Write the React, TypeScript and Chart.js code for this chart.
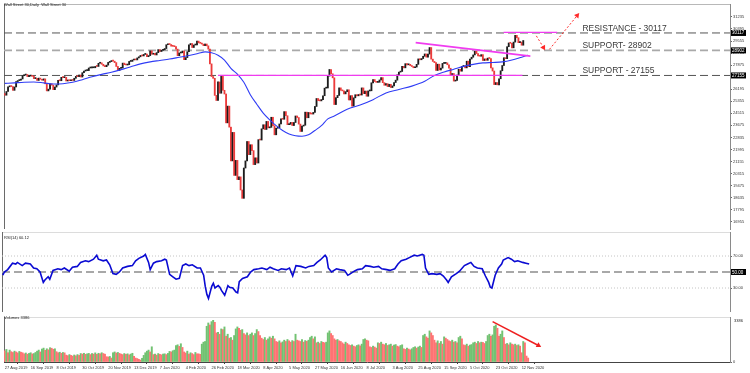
import React, { useEffect, useRef } from "react";
import { Chart, registerables } from "chart.js";
Chart.register(...registerables);

// ---------- data ----------
const chartTitle = "Wall Street 30,Daily  Wall Street 30";
const firstOpen = 25898;
const closes = [
  25778, 26036, 26362, 26403,
  26380, 26118, 26355, 26728, 26797,
  26835, 26909, 27137, 27182, 27220,
  27076, 27111, 27147, 27094, 26935,
  26950, 26808, 26970, 26891, 26820,
  26917, 26573, 26079, 26201, 26573,
  26478, 26164, 26347, 26497, 26817,
  26787, 27024, 27001, 27026, 26770,
  26827, 26788, 26834, 26806, 26959,
  27091, 27071, 27186, 27046, 27347,
  27462, 27493, 27493, 27675, 27681,
  27691, 27691, 27784, 27782, 28005,
  28036, 27934, 27821, 27766, 27876,
  28066, 28122, 28164, 28150, 28051,
  27783, 27502, 27650, 27677, 28015,
  27909, 27881, 27911, 28132, 28135,
  28235, 28268, 28239, 28376, 28455,
  28551, 28515, 28621, 28645,
  28462, 28538, 28868, 28634,
  28703, 28583, 28745, 28956, 28824,
  28907, 28940, 29030, 29297, 29348,
  29310, 29196, 29186, 29160, 28990,
  28535, 28723, 28734, 28859, 28256,
  28400, 28808, 29290, 29380, 29103,
  29276, 29276, 29551, 29424, 29398,
  29340, 29232, 29348, 29220, 28992,
  27961, 27081, 26957, 25766, 25409,
  26703, 25917, 27091, 26121, 25864,
  23851, 25018, 23553, 21200, 23185,
  20189, 21237, 19899, 20087, 19174,
  18592, 20704, 21200, 22552, 21637,
  22327, 21917, 20943, 21413, 21053,
  22680, 22654, 23434, 23719,
  23390, 23950, 23504, 23538, 24242,
  23650, 23019, 23475, 23515, 23775,
  24134, 24101, 24634, 24346, 23724,
  23750, 23883, 23665, 23876, 24331,
  24222, 23765, 23248, 23626, 23685,
  24598, 24207, 24576, 24474, 24465,
  24580, 24995, 25548, 25401, 25383,
  25475, 25742, 26270, 26282, 27111,
  27572, 27272, 26990, 25128, 25606,
  25763, 26290, 26120, 26080, 25871,
  26025, 26156, 25446, 25746, 25016,
  25596, 25813, 25735, 25827, 25790,
  26287, 25890, 26067, 25707, 26075,
  26086, 26643, 26870, 26735, 26672,
  26681, 26840, 27005, 26652, 26470,
  26584, 26379, 26540, 26314, 26428,
  26664, 26828, 27201, 27387, 27433,
  27791, 27686, 27976, 27896, 27931,
  27844, 27778, 27692, 27739, 27930,
  28308, 28249, 28332, 28492, 28654,
  28430, 28645, 29100, 28292, 28133,
  28050, 27501, 27940, 27535, 27666,
  27993, 27995, 28032, 27902, 27657,
  27148, 27288, 26763, 26815, 27174,
  27584, 27452, 27782, 27817, 27683,
  28149, 27773, 28303, 28426, 28587,
  28838, 28680, 28515, 28494, 28607,
  28196, 28309, 28211, 28364, 28336,
  27685, 27463, 26520, 26660, 26502,
  26925, 27481, 27848, 28390, 28323,
  29158, 29421, 29398, 29080, 29480,
  29950, 29784, 29438, 29484, 29263,
  29591,
];

const volumes = [
  850, 950, 700, 900,
  780, 720, 820, 760, 690, 800, 740, 700,
  620, 680, 590, 650, 700, 610, 640, 720,
  820, 900, 760, 980, 1050, 880, 1000, 920,
  1080, 1040, 960, 1000,
  780, 700, 740, 660, 720, 690,
  520, 480, 560, 500, 450, 530, 470, 560, 500,
  640, 600, 660, 580, 620, 650,
  560, 640, 600, 690, 580, 660, 620, 700, 640, 590,
  400, 380, 420, 300,
  700, 760, 680, 720, 650,
  600, 560, 640, 580, 620, 540, 600, 660,
  420, 300, 260, 200, 150, 280,
  500, 700, 820, 900, 760,
  1150,
  560, 600, 520, 640, 580, 540, 600, 620, 560, 650,
  800, 760, 850, 900,
  1250,
  1300, 1180, 1380, 1100,
  760, 680, 820, 600, 700, 640, 560, 720, 620,
  620, 580,
  1350, 1500, 1550,
  2700, 2950, 2800,
  3050, 3150, 3000,
  2200, 2250, 2100,
  2500, 2450, 2650,
  1950, 2100, 1800,
  1850, 1650, 2000,
  2500, 2650, 2550, 2400, 2450,
  2150, 2050, 2200, 2000,
  2100, 2200, 2000,
  2150, 2450, 2300, 2000,
  1800, 1700, 1850, 1650, 1750,
  1900, 1800, 1950, 1750,
  1550, 1500, 1600, 1450, 1520,
  1650, 1550, 1700, 1600, 1500, 1620,
  1550, 2100,
  1650, 1600, 1550, 1700, 1500, 1620, 1560, 1650,
  1850, 1950, 1750, 1900,
  1450, 1500, 1400, 1550, 1480, 1450, 1500,
  2200, 2350, 2150, 2000,
  1750, 1650, 1700, 1600, 1550,
  1450, 1350, 1500, 1400, 1300,
  1250, 1300, 1200, 1150,
  1250, 1300, 1220, 1350,
  1700, 1750, 1650, 1600,
  1150, 1100, 1200, 1130, 1050,
  1450, 1400, 1500, 1350, 1300, 1400,
  1250, 1300, 1350, 1200, 1280, 1320, 1200, 1150, 1250, 1300,
  1000, 950, 1050, 980, 920, 1000,
  1100, 1150, 1050, 1130, 1200, 1100,
  2000, 2100, 1900, 1800,
  2350, 2200, 2000,
  1650, 1450, 1600, 1400, 1550, 1350,
  1900, 1800, 1700,
  1600, 1550, 1650, 1500, 1550, 1450,
  1850, 1950, 1750,
  1300, 1250, 1350, 1200, 1280, 1320,
  1450, 1500, 1400, 1550, 1450, 1500, 1480, 1400, 1550,
  2000, 2100, 1950, 2050,
  2700, 2800, 2550,
  1950, 2100, 2350, 1850,
  1350, 1400, 1300, 1450, 1350, 1300,
  1350, 1250, 1300, 1200,
  700,
  1550, 1450,
  450, 300,
];

// moving average [bar, value]
const maPoints = [
  [0, 26600], [6, 26640], [12, 26680], [18, 26700], [24, 26640], [30, 26560], [36, 26580], [42, 26680],
  [48, 26860], [54, 27060], [60, 27230], [66, 27380], [72, 27560], [78, 27760], [84, 27960], [90, 28100],
  [96, 28200], [102, 28300], [108, 28420], [114, 28540], [120, 28700], [124, 28800], [128, 28735], [132, 28570],
  [136, 28230], [140, 27650], [144, 27240], [148, 26680], [152, 25810], [156, 25150], [160, 24530], [164, 24060],
  [168, 23655], [172, 23320], [176, 23080], [180, 22950], [184, 22915], [188, 23015], [192, 23320], [196, 23655],
  [200, 24130], [204, 24330], [212, 24800], [220, 25100], [228, 25470], [236, 25940], [244, 26180], [252, 26410],
  [260, 26750], [266, 27155], [272, 27390], [278, 27590], [284, 27790], [290, 27930], [296, 28030], [302, 28060],
  [308, 28100], [314, 28230], [320, 28430], [324, 28570],
];

// RSI(14) [bar, value]
const rsiPoints = [
  [0, 46], [1, 50], [3, 53], [6, 61], [8, 60], [9, 62], [12, 58], [14, 61], [17, 60], [19, 55], [21, 54], [23, 50],
  [25, 37], [26, 40], [28, 44], [29, 41], [31, 52], [34, 54], [36, 53], [38, 55], [41, 51], [43, 56], [46, 57],
  [48, 62], [51, 64], [53, 63], [56, 66], [58, 71], [59, 66], [62, 64], [64, 65], [66, 59], [68, 48], [70, 47],
  [72, 50], [74, 55], [77, 57], [80, 58], [82, 64], [84, 67], [87, 70], [88, 72], [90, 62], [91, 53], [93, 61],
  [95, 63], [98, 64], [100, 66], [101, 65], [103, 47], [105, 44], [107, 41], [109, 42], [111, 58], [113, 60],
  [115, 58], [117, 59], [120, 55], [122, 55], [124, 46], [125, 32], [126, 22], [127, 17], [129, 32], [130, 36],
  [131, 30], [133, 33], [134, 31], [135, 27], [137, 21], [139, 33], [140, 31], [142, 30], [144, 25], [145, 24],
  [146, 38], [148, 42], [151, 44], [153, 50], [155, 53], [158, 54], [160, 55], [163, 53], [165, 56], [167, 54],
  [170, 52], [172, 54], [175, 53], [177, 55], [179, 45], [181, 58], [184, 57], [187, 55], [189, 57], [192, 58],
  [194, 62], [196, 65], [199, 71], [200, 68], [201, 55], [203, 50], [206, 54], [208, 53], [211, 52], [213, 46],
  [214, 47], [217, 51], [219, 53], [222, 54], [224, 58], [227, 57], [229, 56], [232, 57], [234, 54], [237, 53],
  [239, 52], [242, 54], [244, 60], [246, 64], [249, 66], [251, 68], [254, 71], [256, 70], [259, 72], [260, 71],
  [261, 55], [263, 47], [265, 48], [268, 47], [270, 48], [272, 45], [274, 40], [275, 37], [277, 44], [280, 48],
  [282, 51], [285, 58], [287, 60], [289, 62], [291, 57], [293, 55], [296, 54], [298, 45], [300, 37], [301, 31],
  [302, 30], [304, 46], [306, 55], [308, 60], [309, 65], [312, 68], [314, 66], [316, 63], [318, 64], [321, 62],
  [323, 61], [325, 60],
];

const xTickLabels = [
  "27 Aug 2019", "16 Sep 2019", "8 Oct 2019", "30 Oct 2019", "20 Nov 2019", "13 Dec 2019", "7 Jan 2020",
  "4 Feb 2020", "26 Feb 2020", "18 Mar 2020", "8 Apr 2020", "5 May 2020", "27 May 2020", "16 Jun 2020",
  "8 Jul 2020", "3 Aug 2020", "25 Aug 2020", "15 Sep 2020", "5 Oct 2020", "23 Oct 2020", "12 Nov 2020",
];
const priceTicks = [31235, 30395, 29555, 28715, 27875, 27035, 26195, 25355, 24515, 23675, 22835, 21995, 21155, 20315, 19475, 18635, 17795, 16955];
const levelValues = [30117, 28902, 27155];
const levelTexts = ["RESISTANCE - 30117", "SUPPORT- 28902", "SUPPORT - 27155"];
const rsiLevels = [70, 50, 30];
const rsiLabel = "RSI(14) 60.12";
const volumeLabel = "Volumes 3386";
const volumeTopLabel = "3386";

// drawn lines [bar, value]
const pinkBaseLine = [[132, 27155], [320.5, 27155]];
const pinkTopLine = [[308.8, 30160], [342, 30160]];
const pinkTrendLine = [[254.4, 29443], [325.4, 28500]];
const dottedArrowDown = [[329.1, 29914], [333.5, 29107]];
const dottedArrowUp = [[337.2, 28972], [354.4, 31328]];
const volumeArrow = [[302, 3054], [330.4, 1249]];

// ---------- layout ----------
const W = 750;
const AXIS_W = 20;
const PAD_L = 2;
const X_MIN = -0.5;
const X_MAX = 449;
const MAIN_H = 233;
const RSI_TOP = 232;
const RSI_H = 80;
const VOL_TOP = 313;
const VOL_H = 60;
const PRICE_MIN = 16454;
const PRICE_MAX = 32135;
const VOL_MAX = 3400;
const LEVEL_TEXT_BAR = 357.6;
const FONT = '"Liberation Sans", Arial, sans-serif';
const TICK_FONT = { size: 4, family: FONT };

function lineDs(points: number[][], color: string, width: number, dash: number[], order: number, extra: any = {}) {
  return {
    type: "line",
    data: points.map(([x, y]) => ({ x, y })),
    borderColor: color,
    backgroundColor: color,
    borderWidth: width,
    borderDash: dash,
    pointRadius: 0,
    fill: false,
    tension: 0,
    order,
    ...extra,
  };
}
function arrowDs(points: number[][], color: string, width: number, dash: number[], rotation: number, order: number) {
  return lineDs(points, color, width, dash, order, {
    pointRadius: [0, 3.2],
    pointStyle: "triangle",
    pointRotation: [0, rotation],
    pointBackgroundColor: color,
    pointBorderColor: color,
    pointBorderWidth: 0,
  });
}
function xScale(display: boolean): any {
  return { type: "linear", min: X_MIN, max: X_MAX, offset: false, display };
}
function yAxis(min: number, max: number, ticks: number[], fmt: (v: number) => string): any {
  return {
    type: "linear",
    position: "right",
    min,
    max,
    afterBuildTicks: (s: any) => {
      s.ticks = ticks.map((v) => ({ value: v }));
    },
    afterFit: (s: any) => {
      s.width = AXIS_W;
      s.paddingTop = 0;
      s.paddingBottom = 0;
    },
    ticks: { font: TICK_FONT, color: "#333", padding: 1, callback: (v: number) => fmt(v) },
    grid: { drawOnChartArea: false, tickLength: 2, color: "#666" },
    border: { color: "#8a8a8a" },
  };
}
function frame(topColor: string | null) {
  return {
    id: "frame",
    beforeDatasetsDraw(chart: any) {
      const { ctx, chartArea: a } = chart;
      ctx.save();
      ctx.lineWidth = 1;
      if (topColor) {
        ctx.strokeStyle = topColor;
        ctx.beginPath();
        ctx.moveTo(a.left, a.top + 0.5);
        ctx.lineTo(a.right, a.top + 0.5);
        ctx.stroke();
      }
      ctx.strokeStyle = "#6a6a6a";
      ctx.beginPath();
      ctx.moveTo(a.left + 0.5, a.top);
      ctx.lineTo(a.left + 0.5, a.bottom);
      ctx.stroke();
      ctx.restore();
    },
  };
}
function boxLabel(ctx: any, x: number, y: number, text: string) {
  ctx.save();
  ctx.fillStyle = "#000";
  ctx.fillRect(x + 1, y - 3, 15, 6);
  ctx.fillStyle = "#fff";
  ctx.font = `4.5px ${FONT}`;
  ctx.textBaseline = "middle";
  ctx.fillText(text, x + 2, y + 0.3);
  ctx.restore();
}
const baseOptions: any = {
  responsive: false,
  maintainAspectRatio: false,
  animation: false,
  devicePixelRatio: 1,
  events: [],
  layout: { padding: { left: PAD_L, right: 0, top: 0, bottom: 0 } },
  plugins: { legend: { display: false }, tooltip: { enabled: false }, title: { display: false } },
};

function mainConfig(): any {
  const opens = closes.map((c, i) => (i === 0 ? firstOpen : closes[i - 1]));
  const candles = closes.map((c, i) => ({ x: i, y: [opens[i], c] }));
  const colors = closes.map((c, i) => (c >= opens[i] ? "#1c1c1c" : "#ec3b3b"));
  const span = (v: number) => [[X_MIN, v], [X_MAX, v]];
  return {
    type: "bar",
    data: {
      datasets: [
        {
          type: "bar",
          data: candles,
          backgroundColor: colors,
          borderWidth: 0,
          barThickness: 1.2,
          minBarLength: 1,
          grouped: false,
          order: 5,
        },
        lineDs(maPoints, "#2f3cf5", 1.1, [], 4, { cubicInterpolationMode: "monotone" }),
        lineDs(span(levelValues[0]), "#555", 1, [8, 4], 9),
        lineDs(span(levelValues[1]), "#a9a9a9", 1.6, [8, 4], 9),
        lineDs(span(levelValues[2]), "#555", 1, [8, 4], 9),
        lineDs(pinkBaseLine, "#f03cf0", 1.3, [], 2),
        lineDs(pinkTopLine, "#f03cf0", 1.3, [], 2),
        lineDs(pinkTrendLine, "#f03cf0", 1.6, [], 2),
        arrowDs(dottedArrowDown, "#ff2a2a", 1, [2, 2], 150, 1),
        arrowDs(dottedArrowUp, "#ff2a2a", 1, [2, 2], 39, 1),
      ],
    },
    options: {
      ...baseOptions,
      scales: {
        x: xScale(false),
        y: yAxis(PRICE_MIN, PRICE_MAX, priceTicks, (v) => String(v)),
      },
    },
    plugins: [
      frame("#b8b8b8"),
      {
        id: "mainDeco",
        afterDatasetsDraw(chart: any) {
          const { ctx, scales } = chart;
          ctx.save();
          ctx.fillStyle = "#222";
          ctx.font = `4px ${FONT}`;
          ctx.textBaseline = "top";
          ctx.fillText(chartTitle, 4, 3);
          ctx.fillStyle = "#3a3a3a";
          ctx.font = `8.5px ${FONT}`;
          ctx.textBaseline = "alphabetic";
          levelValues.forEach((lv, i) => {
            ctx.fillText(levelTexts[i], scales.x.getPixelForValue(LEVEL_TEXT_BAR), scales.y.getPixelForValue(lv) - 2);
          });
          ctx.restore();
        },
        afterDraw(chart: any) {
          const { ctx, scales, chartArea } = chart;
          levelValues.forEach((lv) => boxLabel(ctx, chartArea.right, scales.y.getPixelForValue(lv), String(lv)));
        },
      },
    ],
  };
}

function rsiConfig(): any {
  const span = (v: number) => [[X_MIN, v], [X_MAX, v]];
  return {
    type: "line",
    data: {
      datasets: [
        lineDs(rsiPoints, "#0a0ad2", 1.6, [], 1),
        lineDs(span(rsiLevels[0]), "#c4c4c4", 1, [1, 2], 5),
        lineDs(span(rsiLevels[1]), "#a8a8a8", 2, [8, 4], 5),
        lineDs(span(rsiLevels[2]), "#c4c4c4", 1, [1, 2], 5),
      ],
    },
    options: {
      ...baseOptions,
      scales: {
        x: xScale(false),
        y: yAxis(0, 100, [rsiLevels[0], rsiLevels[2]], (v) => v.toFixed(2)),
      },
    },
    plugins: [
      frame("#dcdcdc"),
      {
        id: "rsiDeco",
        afterDatasetsDraw(chart: any) {
          const { ctx } = chart;
          ctx.save();
          ctx.fillStyle = "#222";
          ctx.font = `4px ${FONT}`;
          ctx.textBaseline = "top";
          ctx.fillText(rsiLabel, 4, 4);
          ctx.restore();
        },
        afterDraw(chart: any) {
          const { ctx, scales, chartArea } = chart;
          boxLabel(ctx, chartArea.right, scales.y.getPixelForValue(rsiLevels[1]), rsiLevels[1].toFixed(2));
        },
      },
    ],
  };
}

function volConfig(): any {
  const colors = volumes.map((v, i) => (i > 0 && v > volumes[i - 1] ? "#72c272" : "#ff7373"));
  return {
    type: "bar",
    data: {
      datasets: [
        {
          type: "bar",
          data: volumes.map((v, i) => ({ x: i, y: v })),
          backgroundColor: colors,
          borderWidth: 0,
          barThickness: 1.3,
          grouped: false,
          order: 5,
        },
        arrowDs(volumeArrow, "#ee2020", 1.5, [], 120, 1),
      ],
    },
    options: {
      ...baseOptions,
      scales: {
        x: {
          ...xScale(true),
          position: "bottom",
          afterBuildTicks: (s: any) => {
            s.ticks = xTickLabels.map((_, k) => ({ value: k * 16 }));
          },
          afterFit: (s: any) => {
            s.height = 11;
            s.paddingLeft = 0;
            s.paddingRight = 0;
          },
          ticks: {
            font: TICK_FONT,
            color: "#333",
            align: "start",
            autoSkip: false,
            maxRotation: 0,
            minRotation: 0,
            padding: 1,
            callback: (_v: number, idx: number) => xTickLabels[idx],
          },
          grid: { drawOnChartArea: false, tickLength: 2, color: "#444" },
          border: { color: "#444" },
        },
        y: yAxis(0, VOL_MAX, [0], (v) => String(v)),
      },
    },
    plugins: [
      frame("#dcdcdc"),
      {
        id: "volDeco",
        afterDatasetsDraw(chart: any) {
          const { ctx, chartArea } = chart;
          ctx.save();
          ctx.fillStyle = "#222";
          ctx.font = `4px ${FONT}`;
          ctx.textBaseline = "top";
          ctx.fillText(volumeLabel, 4, 3);
          ctx.fillText(volumeTopLabel, chartArea.right + 4, chartArea.top + 2);
          ctx.restore();
        },
      },
    ],
  };
}

export default function App() {
  const mainRef = useRef<HTMLCanvasElement>(null);
  const rsiRef = useRef<HTMLCanvasElement>(null);
  const volRef = useRef<HTMLCanvasElement>(null);

  useEffect(() => {
    const charts: Chart[] = [];
    if (mainRef.current) charts.push(new Chart(mainRef.current, mainConfig()));
    if (rsiRef.current) charts.push(new Chart(rsiRef.current, rsiConfig()));
    if (volRef.current) charts.push(new Chart(volRef.current, volConfig()));
    return () => charts.forEach((c) => c.destroy());
  }, []);

  const abs = (top: number): React.CSSProperties => ({ position: "absolute", left: 0, top, display: "block" });
  return (
    <div style={{ position: "fixed", left: 0, top: 0, width: W, height: 373, background: "#fff", overflow: "hidden" }}>
      <canvas ref={mainRef} width={W} height={MAIN_H} style={abs(0)} />
      <canvas ref={rsiRef} width={W} height={RSI_H} style={abs(RSI_TOP)} />
      <canvas ref={volRef} width={W} height={VOL_H} style={abs(VOL_TOP)} />
    </div>
  );
}
